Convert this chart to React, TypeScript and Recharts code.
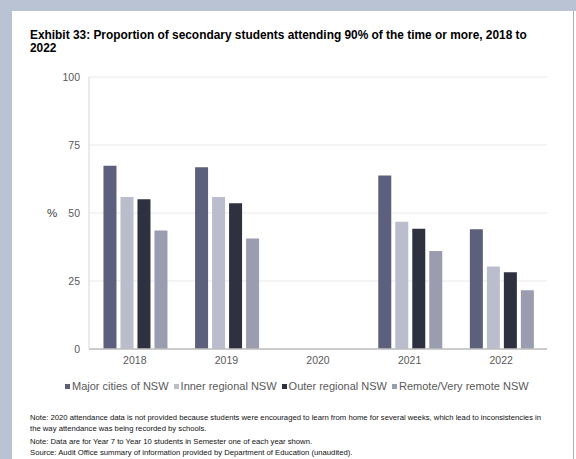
import React from "react";
import { BarChart, Bar, XAxis, YAxis, CartesianGrid } from "recharts";

const YEARS = ["2018", "2019", "2020", "2021", "2022"];
const MAJOR_CITIES = [67.4, 66.8, null, 63.8, 44.0];
const INNER_REGIONAL = [55.9, 55.9, null, 46.8, 30.3];
const OUTER_REGIONAL = [55.1, 53.6, null, 44.2, 28.2];
const REMOTE = [43.6, 40.6, null, 36.0, 21.6];
const Y_TICKS = [0, 25, 50, 75, 100];

const SERIES = [
  { key: "major", name: "Major cities of NSW", values: MAJOR_CITIES, color: "#5c607c" },
  { key: "inner", name: "Inner regional NSW", values: INNER_REGIONAL, color: "#babdcc" },
  { key: "outer", name: "Outer regional NSW", values: OUTER_REGIONAL, color: "#2e3140" },
  { key: "remote", name: "Remote/Very remote NSW", values: REMOTE, color: "#9a9db0" },
];

const FONT = "'Liberation Sans', Arial, Helvetica, sans-serif";
const FRAME = "#b9c3d3";

const chartData = YEARS.map((year, i) => {
  const row: Record<string, string | number | null> = { year };
  SERIES.forEach((s) => {
    row[s.key] = s.values[i];
  });
  return row;
});

export default function App() {
  return (
    <div
      style={{
        position: "absolute",
        left: 0,
        top: 0,
        width: 576,
        height: 459,
        background: "#ffffff",
        overflow: "hidden",
        fontFamily: FONT,
      }}
    >
      {/* page frame */}
      <div style={{ position: "absolute", left: 0, top: 0, width: 576, height: 11, background: FRAME }} />
      <div style={{ position: "absolute", left: 0, top: 0, width: 12, height: 459, background: FRAME }} />
      <div style={{ position: "absolute", left: 573, top: 11, width: 1, height: 448, background: "#a9b1c0" }} />

      <div
        style={{
          position: "absolute",
          left: 30,
          top: 29,
          fontSize: 11.9,
          lineHeight: "12.5px",
          fontWeight: 700,
          color: "#000",
          whiteSpace: "nowrap",
        }}
      >
        Exhibit 33: Proportion of secondary students attending 90% of the time or more, 2018 to
        <br />
        2022
      </div>

      <div style={{ position: "absolute", left: 0, top: 0 }}>
        <BarChart
          width={576}
          height={400}
          data={chartData}
          margin={{ top: 77, right: 29, bottom: 21, left: 49 }}
          barCategoryGap="15.8%"
          barGap={4}
        >
          <CartesianGrid vertical={false} stroke="#e8e8e8" />
          <XAxis
            dataKey="year"
            height={30}
            tickLine={false}
            axisLine={{ stroke: "#bfbfbf", strokeWidth: 1.5 }}
            tick={{ fontSize: 10.5, fill: "#595959", fontFamily: FONT }}
          />
          <YAxis
            width={40}
            domain={[0, 100]}
            ticks={Y_TICKS}
            tickLine={false}
            tickMargin={3}
            axisLine={{ stroke: "#d6d6d6" }}
            tick={{ fontSize: 10.5, fill: "#595959", fontFamily: FONT }}
            label={{
              value: "%",
              position: "insideLeft",
              offset: -2,
              fontSize: 11.5,
              fill: "#404040",
              fontFamily: FONT,
            }}
          />
          {SERIES.map((s) => (
            <Bar
              key={s.key}
              dataKey={s.key}
              name={s.name}
              fill={s.color}
              isAnimationActive={false}
            />
          ))}
        </BarChart>
      </div>

      {/* legend */}
      <div
        style={{
          position: "absolute",
          left: 65,
          top: 378,
          height: 16,
          display: "flex",
          alignItems: "center",
          fontSize: 11,
          color: "#595959",
          whiteSpace: "nowrap",
        }}
      >
        {SERIES.map((s) => (
          <div key={s.key} style={{ display: "flex", alignItems: "center", marginRight: 5 }}>
            <span style={{ width: 5, height: 5, background: s.color, marginRight: 2, display: "inline-block" }} />
            <span>{s.name}</span>
          </div>
        ))}
      </div>

      {/* notes */}
      <div
        style={{
          position: "absolute",
          left: 30,
          top: 412,
          fontSize: 7.7,
          lineHeight: "11px",
          color: "#111111",
          whiteSpace: "nowrap",
        }}
      >
        <div style={{ marginBottom: 2 }}>
          Note: 2020 attendance data is not provided because students were encouraged to learn from home for several weeks, which lead to inconsistencies in
          <br />
          the way attendance was being recorded by schools.
        </div>
        <div style={{ marginBottom: 0 }}>Note: Data are for Year 7 to Year 10 students in Semester one of each year shown.</div>
        <div>Source: Audit Office summary of information provided by Department of Education (unaudited).</div>
      </div>
    </div>
  );
}
